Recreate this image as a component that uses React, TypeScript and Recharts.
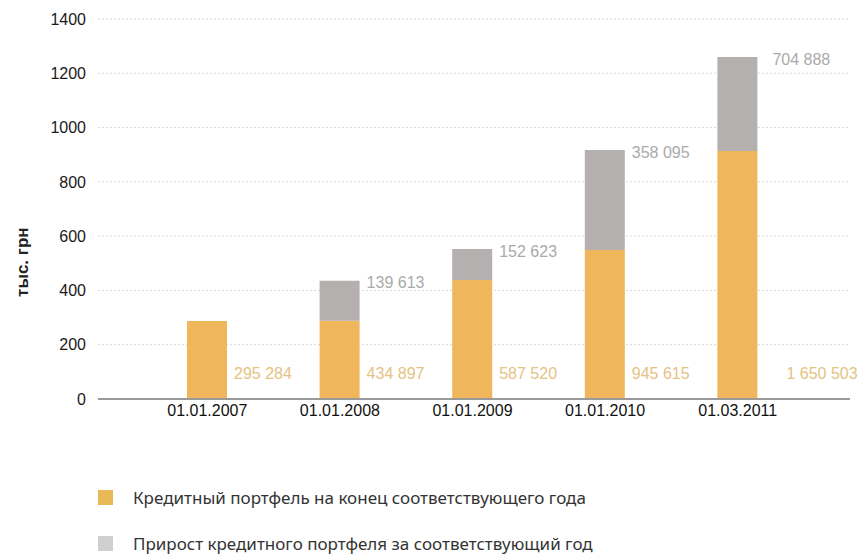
import { BarChart, Bar, XAxis, YAxis, CartesianGrid, LabelList, Label } from 'recharts';

// body margin off so the chart sits at 0,0 like the reference
document.body.style.margin = '0';

const dates = ['01.01.2007', '01.01.2008', '01.01.2009', '01.01.2010', '01.03.2011'];
// bar heights as drawn in the picture (тыс. грн scale)
const portfolio = [287, 288, 438, 549, 914];
const growth = [0, 148, 115, 368, 346];
// printed value labels
const portfolioLabels = ['295 284', '434 897', '587 520', '945 615', '1 650 503'];
const growthLabels = ['', '139 613', '152 623', '358 095', '704 888'];
const yTicks = [0, 200, 400, 600, 800, 1000, 1200, 1400];
const seriesNames = [
  'Кредитный портфель на конец соответствующего года',
  'Прирост кредитного портфеля за соответствующий год',
];

const ORANGE = '#efb65c';
const GRAY = '#b4b0b0';
const FONT = '"Liberation Sans", Arial, sans-serif';

const data = dates.map((date, i) => ({
  date,
  portfolio: portfolio[i],
  growth: growth[i],
  portfolioLabel: portfolioLabels[i],
  growthLabel: growthLabels[i],
}));

const PortfolioLabel = (props: any) => {
  const { x, y, width, height, value } = props;
  if (!value) return null;
  const last = value === portfolioLabels[portfolioLabels.length - 1];
  return (
    <text
      x={x + width + (last ? 29 : 7)}
      y={y + height - 26}
      dy="0.35em"
      fill="#e6c283"
      fontSize={16}
      fontFamily={FONT}
    >
      {value}
    </text>
  );
};

const GrowthLabel = (props: any) => {
  const { x, y, width, value } = props;
  if (!value) return null;
  const last = value === growthLabels[growthLabels.length - 1];
  return (
    <text
      x={x + width + (last ? 15 : 7)}
      y={y + 2}
      dy="0.35em"
      fill="#aaaaaa"
      fontSize={16}
      fontFamily={FONT}
    >
      {value}
    </text>
  );
};

const AxisTitle = (props: any) => {
  const { viewBox } = props;
  const cx = 22;
  const cy = viewBox.y + viewBox.height * 0.64;
  return (
    <text
      x={cx}
      y={cy}
      transform={`rotate(-90, ${cx}, ${cy})`}
      textAnchor="middle"
      dy="0.35em"
      fontSize={17}
      fontWeight="bold"
      fontFamily={FONT}
      fill="#222"
    >
      тыс. грн
    </text>
  );
};

export default function App() {
  return (
    <div style={{ position: 'relative', width: 860, height: 554, background: '#fff' }}>
      <BarChart
        width={860}
        height={554}
        data={data}
        margin={{ top: 19, right: 10, bottom: 125, left: 8 }}
      >
        <CartesianGrid vertical={false} stroke="#d6d6d6" strokeDasharray="2 2" />
        <XAxis
          dataKey="date"
          height={30}
          tickSize={0}
          tickMargin={6}
          padding={{ left: 43, right: 46 }}
          axisLine={{ stroke: '#9a9a9a', strokeWidth: 2 }}
          tick={{ fontSize: 16, fill: '#111', fontFamily: FONT }}
        />
        <YAxis
          width={90}
          domain={[0, 1400]}
          ticks={yTicks}
          axisLine={false}
          tickLine={false}
          tickSize={0}
          tickMargin={12}
          tick={{ fontSize: 16, fill: '#1a1a1a', fontFamily: FONT }}
        >
          <Label content={<AxisTitle />} />
        </YAxis>
        <Bar dataKey="portfolio" stackId="a" fill={ORANGE} barSize={40} isAnimationActive={false}>
          <LabelList dataKey="portfolioLabel" content={<PortfolioLabel />} />
        </Bar>
        <Bar dataKey="growth" stackId="a" fill={GRAY} barSize={40} isAnimationActive={false}>
          <LabelList dataKey="growthLabel" content={<GrowthLabel />} />
        </Bar>
      </BarChart>

      <div style={{ position: 'absolute', left: 98, top: 484, fontFamily: '"Noto Sans", sans-serif' }}>
        {seriesNames.map((name, i) => (
          <div key={name} style={{ display: 'flex', alignItems: 'center', height: 26, marginBottom: 20 }}>
            <span
              style={{
                display: 'inline-block',
                width: 15,
                height: 15,
                background: i === 0 ? '#e9b958' : '#cfcfcf',
                marginRight: 20,
              }}
            />
            <span style={{ fontSize: 17, color: '#333' }}>{name}</span>
          </div>
        ))}
      </div>
    </div>
  );
}
